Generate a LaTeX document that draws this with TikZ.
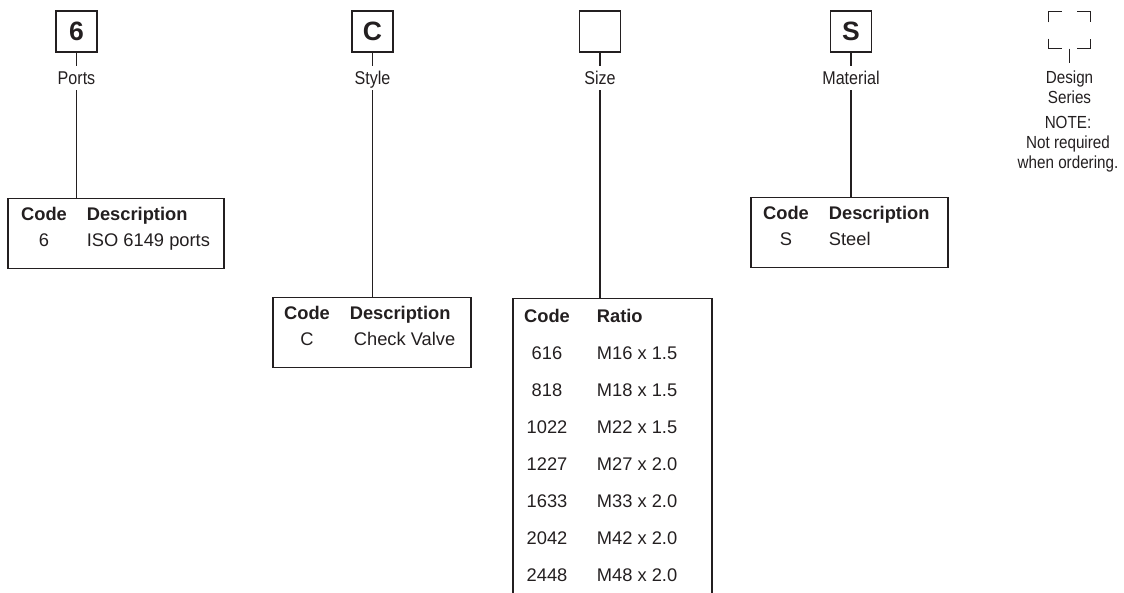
\documentclass[tikz,border=0pt]{standalone}
\usepackage{fontspec}
\setmainfont{Liberation Sans}
\newfontfamily\condfont[FakeStretch=0.87]{Liberation Sans}
\usetikzlibrary{positioning}
\definecolor{ordink}{RGB}{35,31,32}

\begin{document}
\begin{tikzpicture}[
        x=1pt, y=-1pt,
        every node/.style={text=ordink},
        codebox/.style={
            draw=ordink,
            line width=1.4pt,
            minimum size=41pt,
            inner sep=0pt,
            font=\fontsize{26.5}{30}\selectfont\bfseries,
            text height=19pt,
            text depth=0pt
        },
        fieldlabel/.style={
            font=\condfont\fontsize{18.5}{21}\selectfont,
            text height=13pt,
            text depth=0pt,
            inner xsep=2pt,
            inner ysep=5.5pt
        },
        notelabel/.style={
            font=\condfont\fontsize{17.5}{20}\selectfont,
            align=center,
            inner xsep=2pt
        },
        codetable/.style={
            draw=ordink,
            line width=1.4pt,
            anchor=north,
            inner xsep=0pt,
            inner ysep=3.4pt,
            font=\fontsize{18.3}{26}\selectfont
        },
        leader/.style={
            draw=ordink,
            line width=1.2pt
        }
    ]

    \useasboundingbox (0,0) rectangle (1124,593);
    \clip (0,0) rectangle (1124,593);

    % ordering code boxes
    \node[codebox] (box6) at (76.5,31.5) {6};
    \node[codebox] (boxc) at (372.5,31.5) {C};
    \node[codebox] (boxsize) at (600,31.5) {};
    \node[codebox] (boxs) at (851,31.5) {S};
    \node[minimum width=41pt, minimum height=37pt, inner sep=0pt] (dsbox) at (1069.5,30) {};

    \node[fieldlabel, below=13pt of box6] (ports) {Ports};
    \node[fieldlabel, below=13pt of boxc] (style) {Style};
    \node[fieldlabel, below=13pt of boxsize] (size) {Size};
    \node[fieldlabel, below=13pt of boxs] (material) {Material};
    \node[notelabel, inner ysep=8pt, below=14pt of dsbox] (design) {Design\\Series};
    \node[notelabel, inner ysep=0pt] (note) at (1068,143.9) {NOTE:\\Not required\\when ordering.};

    % code tables
    \node[codetable] (tab6) at (116,198) {%
        \begin{tabular}{@{\hspace{13pt}}c@{\hspace{20pt}}p{137pt}@{}}
            \textbf{Code} & \textbf{Description}\\
            6 & ISO 6149 ports\\[11.2pt]
        \end{tabular}};

    \node[codetable] (tabc) at (372,297) {%
        \begin{tabular}{@{\hspace{11pt}}c@{\hspace{20pt}}p{121pt}@{}}
            \textbf{Code} & \textbf{Description}\\
            C & \hspace{4pt}Check Valve\\[11.2pt]
        \end{tabular}};

    \node[codetable, inner ysep=5.25pt] (tabsize) at (612.5,298) {%
        \begin{tabular}{@{\hspace{11pt}}c@{\hspace{27pt}}p{115pt}@{}}
            \textbf{Code} & \textbf{Ratio}\\[11pt]
            616 & M16 x 1.5\\[11pt]
            818 & M18 x 1.5\\[11pt]
            1022 & M22 x 1.5\\[11pt]
            1227 & M27 x 2.0\\[11pt]
            1633 & M33 x 2.0\\[11pt]
            2042 & M42 x 2.0\\[11pt]
            2448 & M48 x 2.0\\[8pt]
        \end{tabular}};

    \node[codetable] (tabs) at (849.5,197) {%
        \begin{tabular}{@{\hspace{12pt}}c@{\hspace{20pt}}p{119pt}@{}}
            \textbf{Code} & \textbf{Description}\\
            S & Steel\\[11.2pt]
        \end{tabular}};

    % leaders
    \draw[leader] (box6) -- (ports);
    \draw[leader] (boxc) -- (style);
    \draw[leader] (boxsize) -- (size);
    \draw[leader] (boxs) -- (material);
    \draw[leader] (dsbox) -- (design);
    \draw[leader] (ports) -- (ports |- tab6.north);
    \draw[leader] (style) -- (style |- tabc.north);
    \draw[leader] (size) -- (size |- tabsize.north);
    \draw[leader] (material) -- (material |- tabs.north);

    % design series corners
    \draw[leader] (dsbox.north west) ++(0,11) -- ++(0,-11) -- ++(13,0);
    \draw[leader] (dsbox.north east) ++(-13,0) -- ++(13,0) -- ++(0,11);
    \draw[leader] (dsbox.south west) ++(0,-10) -- ++(0,10) -- ++(13,0);
    \draw[leader] (dsbox.south east) ++(-13,0) -- ++(13,0) -- ++(0,-10);

\end{tikzpicture}
\end{document}
